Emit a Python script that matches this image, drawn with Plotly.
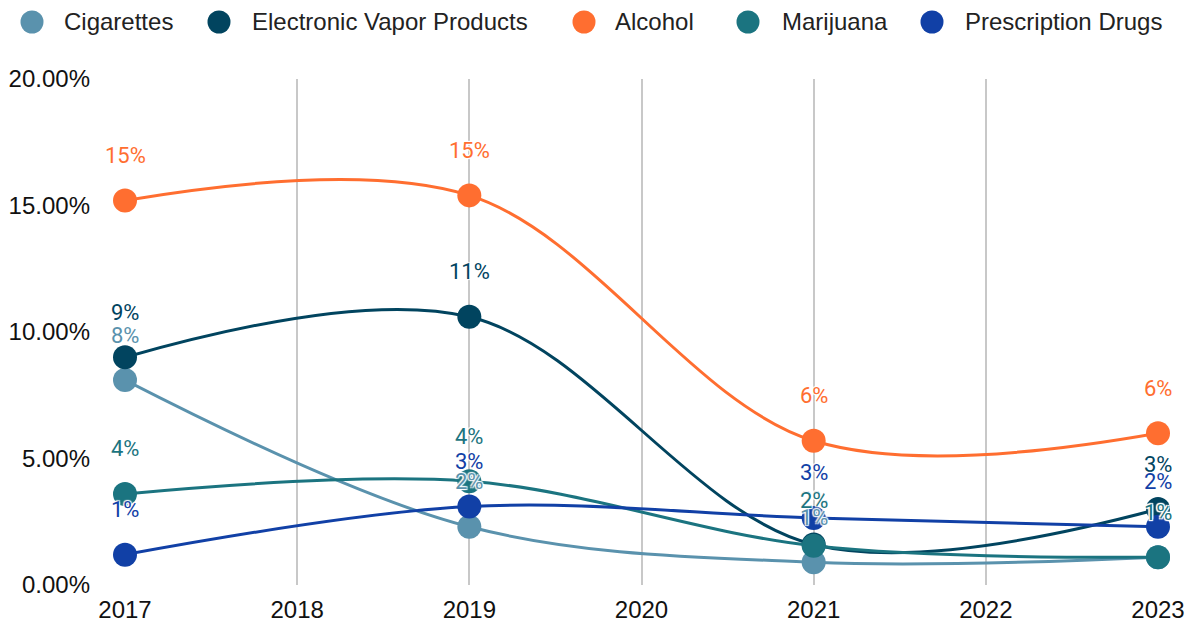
import plotly.graph_objects as go

years = [2017, 2019, 2021, 2023]
series_names = ["Cigarettes", "Electronic Vapor Products", "Alcohol", "Marijuana", "Prescription Drugs"]
cigarettes = [8.1, 2.3, 0.9, 1.1]
vapor = [9.0, 10.6, 1.6, 3.0]
alcohol = [15.2, 15.4, 5.7, 6.0]
marijuana = [3.6, 4.1, 1.55, 1.1]
prescription = [1.2, 3.1, 2.65, 2.3]
colors = ["#5a92ad", "#01445f", "#ff6e30", "#1b7480", "#1140a6"]
x_ticks = [2017, 2018, 2019, 2020, 2021, 2022, 2023]
y_ticks = [0, 5, 10, 15, 20]

values = [cigarettes, vapor, alcohol, marijuana, prescription]

# layout constants (pixels within the figure)
W, H = 1187, 618
ML, MR, MT, MB = 117, 37, 71, 41
PW, PH = W - ML - MR, H - MT - MB
legend_marker_px = [24, 211, 576, 740, 924]
legend_text_px = [54, 242, 605, 772, 955]
legend_y_px = 14


def px_to_paper_x(px):
    return (px - ML) / PW


def px_to_paper_y(py):
    return (H - MB - py) / PH


fig = go.Figure()
for name, vals, col in zip(series_names, values, colors):
    fig.add_trace(go.Scatter(
        x=years, y=vals, mode="lines+markers", name=name, showlegend=False,
        line=dict(color=col, width=3, shape="spline", smoothing=1.0),
        marker=dict(color=col, size=24), cliponaxis=False,
    ))

halo = "1px 1px 1px #fff, -1px -1px 1px #fff, 1px -1px 1px #fff, -1px 1px 1px #fff"
annotations = []
for vals, col in zip(values, colors):
    for x, v in zip(years, vals):
        annotations.append(dict(
            x=x, y=v, xref="x", yref="y", text=f"{round(v):.0f}%",
            showarrow=False, yshift=45, yanchor="middle",
            font=dict(family="Roboto", size=22, color=col, shadow=halo),
        ))

shapes = []
ly = px_to_paper_y(legend_y_px)
for name, col, mx, tx in zip(series_names, colors, legend_marker_px, legend_text_px):
    shapes.append(dict(
        type="circle", xref="paper", yref="paper",
        xsizemode="pixel", ysizemode="pixel",
        xanchor=px_to_paper_x(mx), yanchor=ly,
        x0=-11.5, x1=11.5, y0=-11.5, y1=11.5,
        fillcolor=col, line=dict(width=0),
    ))
    annotations.append(dict(
        x=px_to_paper_x(tx), y=ly, xref="paper", yref="paper",
        text=name, showarrow=False, xanchor="left", yanchor="middle",
        font=dict(family="Liberation Sans", size=24, color="#222222"),
    ))

fig.update_layout(
    width=W, height=H,
    margin=dict(l=ML, r=MR, t=MT, b=MB),
    paper_bgcolor="white", plot_bgcolor="white",
    showlegend=False,
    annotations=annotations,
    shapes=shapes,
    xaxis=dict(
        range=[2017, 2023], tickmode="array", tickvals=x_ticks,
        ticktext=[str(t) for t in x_ticks],
        showgrid=True, gridcolor="#c8c8c8", gridwidth=2,
        zeroline=False, showline=False, automargin=False,
        tickfont=dict(family="Liberation Sans", size=24, color="#111111"),
        ticks="", ticklabelstandoff=8,
    ),
    yaxis=dict(
        range=[0, 20], tickmode="array", tickvals=y_ticks,
        ticktext=[f"{t:.2f}%" for t in y_ticks],
        showgrid=False, zeroline=False, showline=False, automargin=False,
        tickfont=dict(family="Liberation Sans", size=24, color="#111111"),
        ticks="", ticklabelstandoff=34,
    ),
)

fig.write_html("out.html")
